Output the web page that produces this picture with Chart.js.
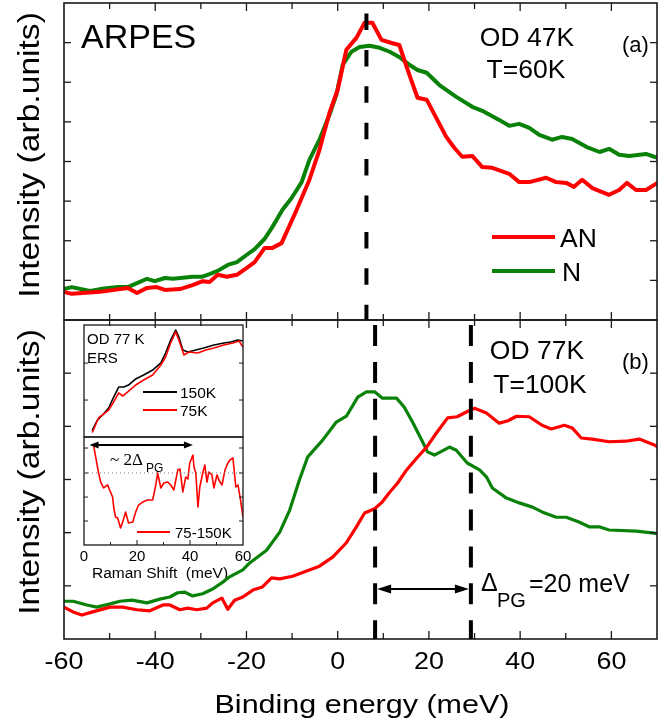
<!DOCTYPE html>
<html><head><meta charset="utf-8">
<script src="https://cdn.jsdelivr.net/npm/chart.js@4.4.1/dist/chart.umd.min.js"></script>
<style>
html,body{margin:0;padding:0;background:#fff;}
#wrap{position:relative;width:665px;height:726px;overflow:hidden;background:#fff;}
canvas{position:absolute;left:0;top:0;}
</style></head><body>
<div id="wrap">
<canvas id="cInTop" width="665" height="726"></canvas>
<canvas id="cInBot" width="665" height="726"></canvas>
<canvas id="cA" width="665" height="726"></canvas>
<canvas id="cB" width="665" height="726"></canvas>
</div>
<script>
// ---------------- DATA ----------------
// Panel (a): OD 47K, T=60K  (binding energy meV, intensity arb. units)
const A_AN_X = [-60,-58.3,-52.1,-46,-44,-41.8,-39.7,-37.9,-34.6,-31.8,-29.6,-28.1,-26.3,-24.3,-22.1,-20,-18.2,-16,-14.3,-12.3,-9,-6.2,-4,-1.8,0,1.9,4.1,5.9,7.6,9.6,11.8,13.5,15.7,17.5,19.5,21.6,23.8,25.6,27.3,29.5,31.7,33.9,37.6,39.8,42,45.7,47.9,50.1,51.8,53.6,55.8,59.5,61.7,63.4,65.4,67.6,69.4,70];
const A_AN_Y = [0.71,0.66,0.71,0.81,0.68,0.81,0.83,0.76,0.78,0.88,0.98,0.96,1.14,1.09,1.14,1.31,1.46,1.82,1.82,1.94,2.78,3.54,4.29,5.23,5.81,6.82,7.12,7.5,7.5,7.07,6.99,6.94,6.19,5.61,5.56,5.1,4.62,4.34,4.12,4.14,3.86,3.84,3.69,3.48,3.48,3.59,3.48,3.46,3.36,3.54,3.33,3.16,3.28,3.46,3.28,3.28,3.41,3.45];
const A_N_X = [-60,-58.3,-54.3,-52.1,-48.2,-46,-44,-41.8,-40.1,-37.9,-36.1,-31.8,-29.8,-28.1,-26.3,-24.1,-22.1,-20,-18.2,-16,-14.3,-12.1,-10.1,-7.9,-6.2,-4,-1.8,-0.3,1.1,3,4.8,7,9.2,11.4,13.5,15.7,17.5,19.5,22.3,26,29.5,31.7,35.4,37.6,39.8,42,44.2,47,49.2,51.4,54.5,57.4,59.5,61.7,63.9,67.6,69.4,70];
const A_N_Y = [0.78,0.83,0.73,0.78,0.83,0.83,0.93,1.04,0.98,1.06,1.04,1.09,1.09,1.16,1.24,1.39,1.46,1.64,1.79,2.05,2.35,2.78,3.08,3.48,4.04,4.55,5.18,5.68,6.44,6.77,6.89,6.92,6.87,6.77,6.64,6.44,6.31,6.24,5.93,5.63,5.38,5.28,5.05,4.9,4.95,4.85,4.67,4.55,4.62,4.57,4.37,4.24,4.32,4.17,4.14,4.19,4.12,4.1];

// Panel (b): OD 77K, T=100K
const B_AN_X = [-60,-58,-56.1,-53.7,-49.9,-47.1,-44,-41.2,-38.3,-36.8,-34.6,-32.9,-30.9,-28.7,-27.4,-25.4,-24.1,-22.6,-20.8,-18.6,-16.5,-14.5,-12.7,-9.9,-6.8,-4,-1.1,1.9,4.1,5.9,8.1,9.8,11.4,13.1,15.1,17.3,19.5,21.6,24.1,26.2,28.2,30,32.6,35.4,37.2,39.2,42,44.8,46.8,49.7,51.4,53.4,55.8,59.5,63.2,66.1,69.4,70];
const B_AN_Y = [0.6,0.51,0.45,0.51,0.6,0.6,0.55,0.53,0.64,0.64,0.55,0.58,0.55,0.58,0.68,0.77,0.56,0.73,0.79,0.92,0.98,1.15,1.13,1.18,1.28,1.37,1.54,1.81,2.11,2.37,2.45,2.58,2.76,2.93,3.18,3.4,3.61,3.87,4.16,4.18,4.27,4.34,4.25,4.06,4.1,4.19,4.18,4.02,3.95,4.02,3.97,3.78,3.76,3.71,3.72,3.76,3.65,3.62];
const B_N_X = [-60,-58,-55,-52.8,-49.9,-47.7,-45.1,-41.8,-39,-36.8,-35.1,-33.5,-31.8,-29.6,-27.4,-25.2,-23.7,-20.8,-19.3,-15.6,-12.7,-10.5,-8.4,-6.6,-3.3,-0.3,1.9,4.4,6.3,8.1,9.8,12.9,14.6,16.4,18.6,19.7,21.2,24.5,26,28.4,31.1,32.6,33.9,37,39.8,42.7,44.8,47.9,50.1,52.9,55.1,57.3,59.5,65.4,69.4,70];
const B_N_Y = [0.71,0.71,0.64,0.6,0.66,0.71,0.73,0.68,0.75,0.79,0.87,0.88,0.81,0.85,0.94,1.07,1.17,1.3,1.43,1.67,2.01,2.43,2.99,3.42,3.74,4.08,4.19,4.55,4.65,4.65,4.53,4.53,4.36,4.08,3.71,3.52,3.46,3.61,3.55,3.31,3.18,3.05,2.84,2.65,2.56,2.48,2.39,2.29,2.29,2.2,2.11,2.11,2.05,2.03,1.99,1.98];

// Inset: ERS Raman spectra (Raman shift meV)
const IN_X150 = [3.2,5.1,7,9.3,11.2,13.1,15,16.8,19.5,22.5,25.9,29,30.8,32.7,34.6,35.8,37.3,39.2,42.2,45.2,49,52.8,55.4,58.1,60];
const IN_Y150 = [0.63,1.52,1.96,2.59,3.57,4.46,4.46,4.64,5.18,5.54,5.98,6.61,7.5,8.66,9.55,8.93,7.77,7.59,7.77,7.95,8.21,8.39,8.48,8.66,8.57];
const IN_X75 = [3.2,5.5,9.3,11.2,13.1,14.6,16.5,19.5,22.5,25.9,29,30.8,32.7,34.6,35.8,37.7,39.6,42.9,46,49,52.8,56.2,58.5,60];
const IN_Y75 = [0.45,1.7,2.41,3.13,3.93,3.66,4.02,4.64,5.09,5.54,6.43,7.14,8.39,9.38,8.66,7.32,7.59,7.5,7.77,7.95,8.21,8.39,8.57,8.04];
const IN_DX = [3.6,4.4,5.5,6.3,7.4,8.9,10,10.8,11.2,11.9,12.7,13.8,14.6,15.7,16.8,18.4,19.5,20.6,22.1,24,25.9,27.1,27.8,29,30.1,31.6,32.7,33.9,35.4,36.2,37.3,38.4,39.2,39.9,41.1,41.5,42.2,43,43.7,44.9,45.6,46.4,47.1,48.3,49,50.2,50.9,52.1,53.2,54.3,55.1,56.2,57.3,58.1,58.9,60];
const IN_DY = [9.26,8.15,6.67,5.83,5.28,5.56,4.91,4.44,3.52,2.59,2.5,1.57,2.13,3.06,2.04,2.13,3.06,3.7,3.98,4.17,4.17,5.56,6.67,5.28,5.74,5.83,5.56,5.09,6.94,7.04,4.91,6.3,6.11,7.59,8.33,7.22,6.67,3.52,5.37,6.76,7.41,5.83,6.76,6.48,5.28,6.48,6.02,5.56,6.94,7.59,7.87,8.06,5.37,5.56,4.44,2.59];

// Axes / ticks / markers
const X_RANGE = [-60, 70];
const X_TICK_VALUES = [-60,-40,-20,0,20,40,60];
const X_TICK_LABELS = ['-60','-40','-20','0','20','40','60'];
const X_MINOR_TICKS = [-50,-30,-10,10,30,50,70];
const A_Y_RANGE = [0, 8];
const A_Y_TICKS = [1,2,3,4,5,6,7];
const B_Y_RANGE = [0, 6];
const B_Y_TICKS = [1,2,3,4,5];
const A_PEAK = 6.3;
const B_LINES = [8.2, 29.2];
const IN_X_RANGE = [0, 60];
const IN_TICK_VALUES = [0,20,40,60];
const IN_TICK_LABELS = ['0','20','40','60'];
const IN_MINOR_TICKS = [10,30,50];
const IN_TOP_Y_TICKS = [3.3, 6.6];
const IN_BOT_Y_TICKS = [2.22, 4.44, 6.67, 8.98];
const IN_DOTTED_Y = 6.67;
const IN_ARROW = [2.1, 41.1, 9.26];

// ---------------- STYLE / HELPERS ----------------
const RED = '#ff0000', GREEN = '#0a820a', BLACK = '#000000';
const FONT = '"Liberation Sans", Arial, Helvetica, sans-serif';
const SERIF = '"Liberation Serif", "Times New Roman", serif';
const pts = (xs, ys) => xs.map((x, i) => ({x: x, y: ys[i]}));

function text(ctx, s, x, y, size, o) {
  o = o || {};
  ctx.save();
  ctx.font = size + 'px ' + (o.family || FONT);
  ctx.fillStyle = o.color || '#000';
  ctx.textAlign = o.align || 'left';
  ctx.textBaseline = o.baseline || 'alphabetic';
  ctx.translate(x, y);
  if (o.rot) ctx.rotate(o.rot);
  ctx.scale(o.sx || 1, 1);
  ctx.fillText(s, 0, 0);
  ctx.restore();
}
function seg(ctx, x1, y1, x2, y2) { ctx.beginPath(); ctx.moveTo(x1, y1); ctx.lineTo(x2, y2); ctx.stroke(); }
function arrow2(ctx, x1, x2, y, hl, hw, lw) {
  ctx.save();
  ctx.strokeStyle = '#000'; ctx.fillStyle = '#000'; ctx.lineWidth = lw; ctx.setLineDash([]);
  seg(ctx, x1 + hl * 0.7, y, x2 - hl * 0.7, y);
  ctx.beginPath(); ctx.moveTo(x1, y); ctx.lineTo(x1 + hl, y - hw); ctx.lineTo(x1 + hl, y + hw); ctx.closePath(); ctx.fill();
  ctx.beginPath(); ctx.moveTo(x2, y); ctx.lineTo(x2 - hl, y - hw); ctx.lineTo(x2 - hl, y + hw); ctx.closePath(); ctx.fill();
  ctx.restore();
}
function dashV(ctx, x, y1, y2, dash) {
  ctx.save();
  ctx.strokeStyle = '#000'; ctx.lineWidth = 4; ctx.lineCap = 'butt';
  ctx.setLineDash(dash);
  seg(ctx, x, y1, x, y2);
  ctx.restore();
}

function panelPlugin(cfg) {
  return {
    id: cfg.id,
    afterDatasetsDraw(chart) {
      const ctx = chart.ctx, a = chart.chartArea, sx = chart.scales.x, sy = chart.scales.y;
      ctx.save();
      ctx.strokeStyle = '#1a1a1a'; ctx.lineCap = 'butt';
      ctx.lineWidth = cfg.frameW;
      ctx.strokeRect(a.left, a.top, a.right - a.left, a.bottom - a.top);
      ctx.lineWidth = cfg.tickW;
      (cfg.xMajor || []).forEach(v => {
        const p = sx.getPixelForValue(v);
        if (cfg.xBottom) seg(ctx, p, a.bottom, p, a.bottom - cfg.xLenMaj);
        if (cfg.xTop) seg(ctx, p, a.top, p, a.top + cfg.xLenMaj);
      });
      (cfg.xMinor || []).forEach(v => {
        const p = sx.getPixelForValue(v);
        if (cfg.xBottom) seg(ctx, p, a.bottom, p, a.bottom - cfg.xLenMin);
        if (cfg.xTop) seg(ctx, p, a.top, p, a.top + cfg.xLenMin);
      });
      (cfg.yTicks || []).forEach(v => {
        const p = sy.getPixelForValue(v);
        seg(ctx, a.left, p, a.left + cfg.yLen, p);
        seg(ctx, a.right, p, a.right - cfg.yLen, p);
      });
      ctx.restore();
      if (cfg.extra) { ctx.save(); cfg.extra(ctx, a, sx, sy); ctx.restore(); }
    }
  };
}

function makeChart(id, pad, xr, yr, datasets, plugin) {
  return new Chart(document.getElementById(id), {
    type: 'line',
    data: { datasets: datasets },
    options: {
      responsive: false, animation: false, devicePixelRatio: 1,
      layout: { padding: pad },
      plugins: { legend: { display: false }, tooltip: { enabled: false }, title: { display: false } },
      scales: {
        x: { type: 'linear', display: false, min: xr[0], max: xr[1] },
        y: { type: 'linear', display: false, min: yr[0], max: yr[1] }
      },
      elements: { point: { radius: 0 }, line: { tension: 0, borderJoinStyle: 'round', borderCapStyle: 'round' } }
    },
    plugins: [plugin]
  });
}
const ds = (xs, ys, color, w) => ({ data: pts(xs, ys), borderColor: color, borderWidth: w, pointRadius: 0, fill: false });

// ---------------- INSET TOP ----------------
makeChart('cInTop', {left: 84, right: 422, top: 325, bottom: 289}, IN_X_RANGE, [0, 10],
  [ds(IN_X75, IN_Y75, RED, 1.6), ds(IN_X150, IN_Y150, BLACK, 1.6)],
  panelPlugin({ id: 'inTop', frameW: 1.3, tickW: 1, yTicks: IN_TOP_Y_TICKS, yLen: 4,
    extra(ctx, a, sx, sy) {
      text(ctx, 'OD 77 K', 87, 344, 15);
      text(ctx, 'ERS', 87, 363, 15);
      ctx.lineWidth = 2;
      ctx.strokeStyle = BLACK; seg(ctx, 143, 392, 177, 392);
      ctx.strokeStyle = RED; seg(ctx, 143, 410, 177, 410);
      text(ctx, '150K', 180, 397.5, 15.5);
      text(ctx, '75K', 180, 415.5, 15.5);
    }
  }));

// ---------------- INSET BOTTOM ----------------
makeChart('cInBot', {left: 84, right: 422, top: 437, bottom: 181}, IN_X_RANGE, [0, 10],
  [ds(IN_DX, IN_DY, RED, 1.6)],
  panelPlugin({ id: 'inBot', frameW: 1.3, tickW: 1, yTicks: IN_BOT_Y_TICKS, yLen: 4,
    xMajor: IN_TICK_VALUES.slice(1, 3), xMinor: IN_MINOR_TICKS, xBottom: true, xLenMaj: 5, xLenMin: 3,
    extra(ctx, a, sx, sy) {
      ctx.save();
      ctx.strokeStyle = '#777'; ctx.lineWidth = 1; ctx.setLineDash([1, 3]);
      const yd = sy.getPixelForValue(IN_DOTTED_Y);
      seg(ctx, a.left, yd, a.right, yd);
      ctx.restore();
      arrow2(ctx, sx.getPixelForValue(IN_ARROW[0]), sx.getPixelForValue(IN_ARROW[1]), sy.getPixelForValue(IN_ARROW[2]), 9, 3.5, 2);
      text(ctx, '~ 2\u0394', 110, 465, 17, {family: SERIF});
      text(ctx, 'PG', 146, 472, 12);
      ctx.lineWidth = 2; ctx.strokeStyle = RED; seg(ctx, 137, 532, 170, 532);
      text(ctx, '75-150K', 175, 537.5, 15);
      IN_TICK_VALUES.forEach((v, i) => text(ctx, IN_TICK_LABELS[i], sx.getPixelForValue(v), 561, 15, {align: 'center'}));
      text(ctx, 'Raman Shift  (meV)', 160, 578, 15.5, {align: 'center'});
    }
  }));

// ---------------- PANEL (a) ----------------
makeChart('cA', {left: 64, right: 8, top: 3, bottom: 406}, X_RANGE, A_Y_RANGE,
  [ds(A_AN_X, A_AN_Y, RED, 4), ds(A_N_X, A_N_Y, GREEN, 4)],
  panelPlugin({ id: 'pa', frameW: 1.6, tickW: 1.3, yTicks: A_Y_TICKS, yLen: 7,
    xMajor: X_TICK_VALUES.slice(1), xMinor: X_MINOR_TICKS.slice(0, -1), xBottom: true, xTop: true, xLenMaj: 8, xLenMin: 6,
    extra(ctx, a, sx, sy) {
      dashV(ctx, sx.getPixelForValue(A_PEAK), 13.5, a.bottom, [16.5, 19.9]);
      text(ctx, 'ARPES', 81, 48, 34);
      text(ctx, 'OD 47K', 527, 45.5, 26.5, {align: 'center'});
      text(ctx, 'T=60K', 526, 78, 26.5, {align: 'center'});
      text(ctx, '(a)', 622, 52, 22);
      ctx.lineWidth = 4; ctx.lineCap = 'butt';
      ctx.strokeStyle = RED; seg(ctx, 492, 237, 555, 237);
      ctx.strokeStyle = GREEN; seg(ctx, 492, 271, 555, 271);
      text(ctx, 'AN', 560, 247, 26.5);
      text(ctx, 'N', 562, 281, 26.5);
      text(ctx, 'Intensity (arb.units)', 31, 155, 30, {rot: -Math.PI / 2, align: 'center', baseline: 'middle', sx: 1.12});
    }
  }));

// ---------------- PANEL (b) ----------------
makeChart('cB', {left: 64, right: 8, top: 320, bottom: 87}, X_RANGE, B_Y_RANGE,
  [ds(B_AN_X, B_AN_Y, RED, 3.2), ds(B_N_X, B_N_Y, GREEN, 3.2)],
  panelPlugin({ id: 'pb', frameW: 1.6, tickW: 1.3, yTicks: B_Y_TICKS, yLen: 7,
    xMajor: X_TICK_VALUES.slice(1), xMinor: X_MINOR_TICKS.slice(0, -1), xBottom: true, xTop: true, xLenMaj: 8, xLenMin: 6,
    extra(ctx, a, sx, sy) {
      B_LINES.forEach(v => dashV(ctx, sx.getPixelForValue(v), a.top + 5, a.bottom, [21, 15.9]));
      arrow2(ctx, sx.getPixelForValue(B_LINES[0]) + 2, sx.getPixelForValue(B_LINES[1]) - 2, 589, 14, 4.5, 2);
      text(ctx, 'OD 77K', 537, 359, 26.5, {align: 'center'});
      text(ctx, 'T=100K', 540, 393, 26.5, {align: 'center'});
      text(ctx, '(b)', 622, 369, 22);
      text(ctx, '\u0394', 481, 591, 25);
      text(ctx, 'PG', 497, 607, 20);
      text(ctx, '=20 meV', 529, 592, 25);
      X_TICK_VALUES.forEach((v, i) => text(ctx, X_TICK_LABELS[i], sx.getPixelForValue(v), 669, 23, {align: 'center', sx: 1.17}));
      text(ctx, 'Binding energy (meV)', 362, 713, 25, {align: 'center', sx: 1.22});
      text(ctx, 'Intensity (arb.units)', 31, 472, 30, {rot: -Math.PI / 2, align: 'center', baseline: 'middle', sx: 1.12});
    }
  }));
</script>
</body></html>
